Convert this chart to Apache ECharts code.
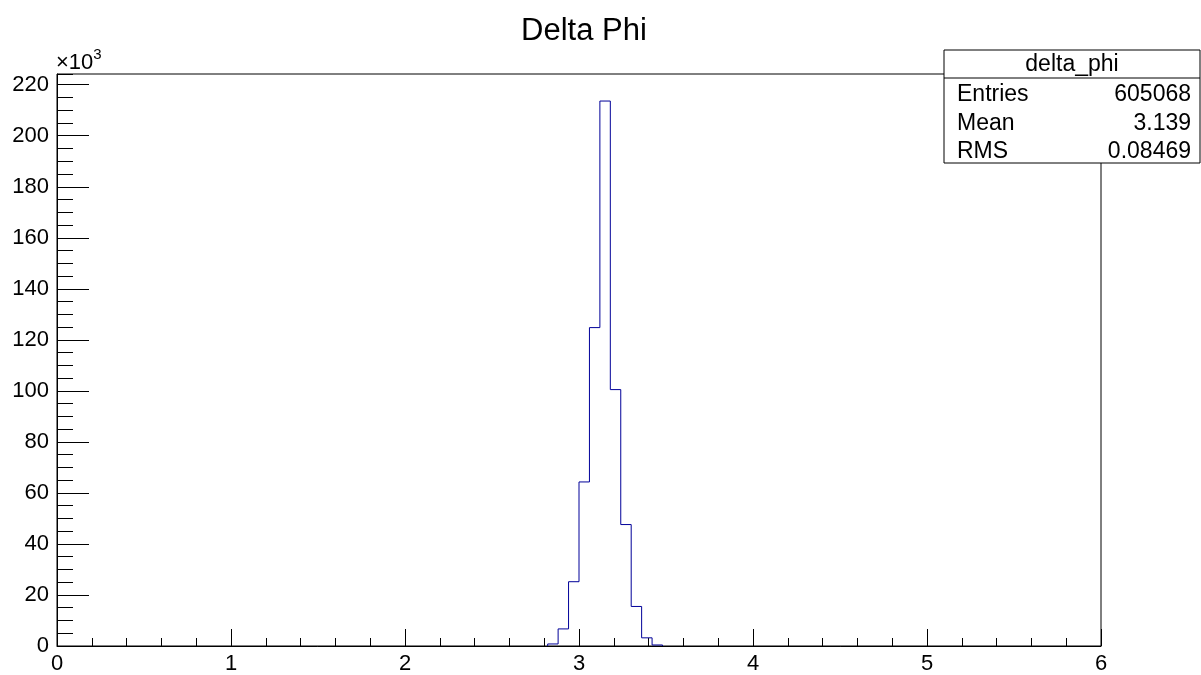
<!DOCTYPE html>
<html>
<head>
<meta charset="utf-8">
<script src="https://cdn.jsdelivr.net/npm/echarts@6/dist/echarts.min.js"></script>
<style>
html,body{margin:0;padding:0;background:#fff;}
#chart{width:1201px;height:675px;}
</style>
</head>
<body>
<div id="chart"></div>
<script>
// Histogram "delta_phi": 100 bins over [0, 6], only non-empty bins listed
const binLowEdges = [2.82, 2.88, 2.94, 3.00, 3.06, 3.12, 3.18, 3.24, 3.30, 3.36, 3.42];
const binWidth = 0.06;
const binCounts = [0.8, 6.7, 25.2, 64.3, 124.8, 213.6, 100.5, 47.6, 15.5, 3.2, 0.4]; // x10^3
const xTicks = [0, 1, 2, 3, 4, 5, 6];
const yTicks = [0, 20, 40, 60, 80, 100, 120, 140, 160, 180, 200, 220];
const statsRows = [["Entries", "605068"], ["Mean", "3.139"], ["RMS", "0.08469"]];
const histName = "delta_phi";
const titleText = "Delta Phi";

const FONT = "Liberation Sans, Arial, sans-serif";
const yMax = 224.2;

// outline of the histogram built from the bins
const outline = [[binLowEdges[0], 0]];
binLowEdges.forEach((lo, i) => {
  outline.push([lo, binCounts[i]]);
  outline.push([lo + binWidth, binCounts[i]]);
});
outline.push([binLowEdges[binLowEdges.length - 1] + binWidth, 0]);

const chart = echarts.init(document.getElementById('chart'), null, {renderer: 'canvas'});

const boxL = 944, boxT = 50, boxR = 1200, boxB = 163, headB = 78;
const graphics = [
  {type: 'rect', shape: {x: boxL, y: boxT, width: boxR - boxL, height: boxB - boxT},
   style: {fill: '#fff', stroke: '#000', lineWidth: 1}, z: 100},
  {type: 'line', shape: {x1: boxL, y1: headB, x2: boxR, y2: headB},
   style: {stroke: '#000', lineWidth: 1}, z: 101},
  {type: 'text', x: (boxL + boxR) / 2, y: (boxT + headB) / 2 + 1,
   style: {text: histName, font: '23px ' + FONT, fill: '#000', align: 'center', verticalAlign: 'middle'}, z: 101},
  // x10^3 label
  {type: 'text', x: 56, y: 78,
   style: {text: '{a|\u00d710}{b|3}', rich: {a: {font: '22px ' + FONT, fill: '#000'}, b: {font: '15px ' + FONT, fill: '#000', verticalAlign: 'top', padding: [0,0,16,0]}},
   verticalAlign: 'bottom'}, z: 101}
];
statsRows.forEach((r, i) => {
  const y = 95 + i * 28.5;
  graphics.push({type: 'text', x: 957, y: y,
    style: {text: r[0], font: '23px ' + FONT, fill: '#000', align: 'left', verticalAlign: 'middle'}, z: 101});
  graphics.push({type: 'text', x: 1191, y: y,
    style: {text: r[1], font: '23px ' + FONT, fill: '#000', align: 'right', verticalAlign: 'middle'}, z: 101});
});

chart.setOption({
  animation: false,
  backgroundColor: '#fff',
  title: {
    text: titleText, left: 516, top: 11,
    textStyle: {fontFamily: FONT, fontSize: 31, fontWeight: 'normal', color: '#000'}
  },
  grid: {left: 57, right: 100, top: 74, bottom: 28, show: true, borderColor: '#000', borderWidth: 1, backgroundColor: 'transparent'},
  xAxis: [{
    type: 'value', min: xTicks[0], max: xTicks[xTicks.length - 1], interval: 1,
    axisLine: {show: true, onZero: false, lineStyle: {color: '#000', width: 1}},
    axisTick: {show: true, inside: true, length: 17, lineStyle: {color: '#000'}},
    minorTick: {show: true, splitNumber: 5, length: 8, lineStyle: {color: '#000'}},
    splitLine: {show: false},
    axisLabel: {color: '#000', fontFamily: FONT, fontSize: 22, margin: 7}
  }],
  yAxis: [{
    type: 'value', min: 0, max: yMax, interval: 20,
    axisLine: {show: true, lineStyle: {color: '#000', width: 1}},
    axisTick: {show: true, inside: true, length: 32, lineStyle: {color: '#000'}},
    splitLine: {show: false},
    axisLabel: {color: '#000', fontFamily: FONT, fontSize: 22, margin: 8, showMaxLabel: false,
      formatter: v => (yTicks.indexOf(v) >= 0 ? String(v) : '')}
  }, {
    type: 'value', min: 0, max: yMax, interval: 5, position: 'left',
    axisLine: {show: false},
    axisTick: {show: true, inside: true, length: 16, lineStyle: {color: '#000'}},
    splitLine: {show: false},
    axisLabel: {show: false}
  }],
  series: [{
    type: 'line', data: outline, xAxisIndex: 0, yAxisIndex: 0,
    symbol: 'none', lineStyle: {color: '#000099', width: 1}, z: 5, silent: true
  }],
  graphic: graphics
});
</script>
</body>
</html>
